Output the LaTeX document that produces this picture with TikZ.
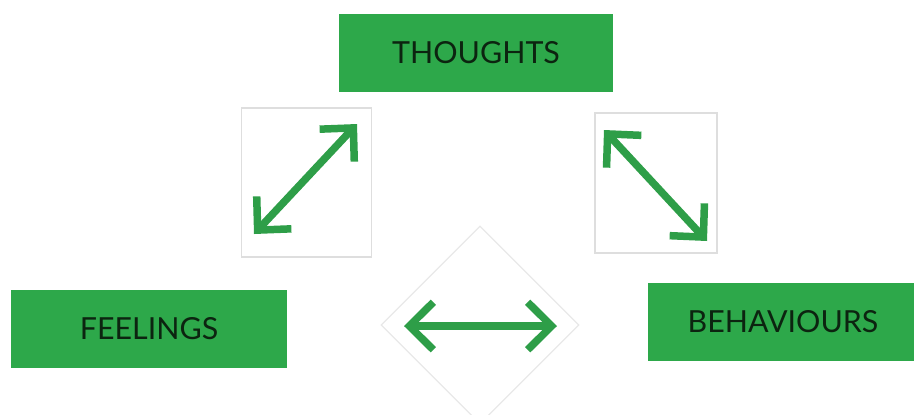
\documentclass[tikz,border=0pt]{standalone}
\usepackage{fontspec}
\setmainfont{Lato}
\usetikzlibrary{arrows.meta,shapes.geometric}

\definecolor{boxgreen}{RGB}{45,168,74}
\definecolor{arrowgreen}{RGB}{46,158,72}
\definecolor{labeldark}{RGB}{12,36,16}
\definecolor{framegray}{RGB}{222,222,222}

\begin{document}
\begin{tikzpicture}[
			x=0.02cm,
			y=-0.02cm,
			labelbox/.style={
					fill=boxgreen,
					text=labeldark,
					inner sep=0pt,
					minimum height=1.56cm,
					font=\fontsize{17.3}{20}\selectfont
				},
			iconframe/.style={
					draw=framegray,
					line width=0.7pt
				},
			dualarrow/.style={
					draw=arrowgreen,
					line width=0.15cm,
					{Straight Barb[length=0.48cm,width=0.95cm]}-{Straight Barb[length=0.48cm,width=0.95cm]}
				}
		]

		\useasboundingbox (0,0) rectangle (914,414);

		% text boxes
		\node (thoughts) [labelbox, minimum width=5.5cm] at (476,53) {THOUGHTS};
		\node (feelings) [labelbox, minimum width=5.52cm] at (149,329) {FEELINGS};
		\node (behaviours) [labelbox, minimum width=5.4cm] at (783,322) {BEHAVIOURS};

		% icon frames
		\node (leftframe) [iconframe, minimum width=2.6cm, minimum height=2.98cm] at (306.5,182.5) {};
		\node (rightframe) [iconframe, minimum width=2.44cm, minimum height=2.8cm] at (656,183) {};
		\node (midframe) [iconframe, draw=framegray!70, shape=diamond, aspect=1, inner sep=0pt,
			minimum width=3.96cm, minimum height=3.96cm] at (480,325) {};

		% arrow ends
		\coordinate (la) at (254,234);
		\coordinate (lb) at (357,124);
		\coordinate (ra) at (604,130);
		\coordinate (rb) at (707,241);
		\coordinate (ma) at (404,326);
		\coordinate (mb) at (557,326);

		\draw[dualarrow] (la) -- (lb);
		\draw[dualarrow] (ra) -- (rb);
		\draw[dualarrow] (ma) -- (mb);

	\end{tikzpicture}
\end{document}
